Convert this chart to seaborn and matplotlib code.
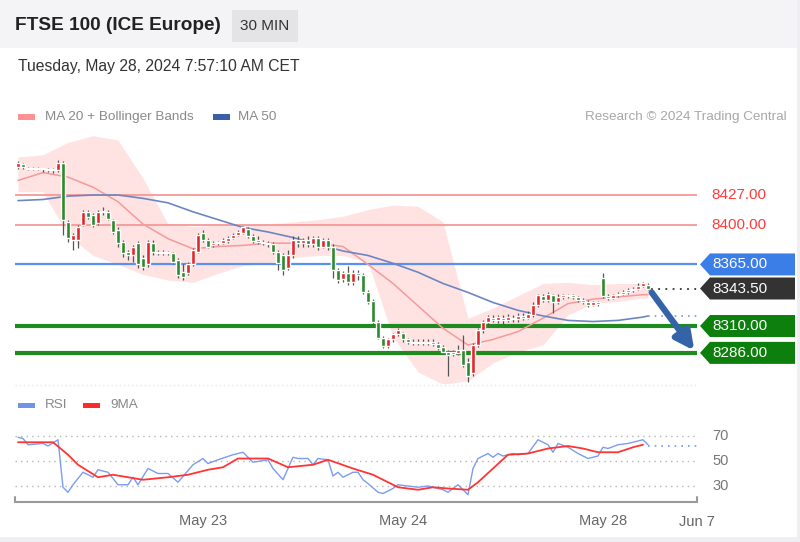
import matplotlib
matplotlib.use("Agg")
import matplotlib.pyplot as plt
import matplotlib.transforms as mtransforms
from matplotlib.patches import Polygon, Rectangle
import numpy as np
import seaborn as sns

sns.set_theme(style="white")
plt.rcParams['font.family'] = ['Liberation Sans', 'DejaVu Sans']

# ---- 30 min candles (bar index 0 .. 126) ----
opens = [8452, 8455, 8451, 8450, 8451, 8450, 8450, 8449, 8449, 8456,
         8403, 8387, 8387, 8400, 8412, 8409, 8402, 8412, 8412, 8405,
         8396, 8385, 8376, 8373, 8384, 8371, 8365, 8384, 8376, 8375,
         8376, 8375, 8369, 8358, 8357, 8365, 8376, 8393, 8387, 8382,
         8384, 8384, 8386, 8389, 8391, 8393, 8397, 8390, 8387, 8385,
         8384, 8383, 8376, 8373, 8362, 8373, 8387, 8384, 8387, 8383,
         8389, 8381, 8387, 8381, 8360, 8352, 8357, 8349, 8357, 8356,
         8340, 8332, 8314, 8299, 8292, 8298, 8303, 8304, 8298, 8296,
         8295, 8296, 8295, 8296, 8294, 8291, 8287, 8285, 8286, 8289,
         8278, 8268, 8293, 8306, 8314, 8317, 8315, 8317, 8315, 8317,
         8316, 8319, 8317, 8320, 8329, 8337, 8333, 8338, 8331, 8336,
         8337, 8338, 8336, 8333, 8331, 8329, 8331, 8353, 8337, 8335,
         8338, 8339, 8340, 8342, 8343, 8346, 8347]
highs = [8457, 8456, 8452, 8452, 8452, 8451, 8451, 8451, 8458, 8457,
         8405, 8393, 8400, 8414, 8414, 8411, 8414, 8416, 8414, 8406,
         8398, 8387, 8378, 8382, 8386, 8373, 8387, 8387, 8378, 8378,
         8377, 8376, 8371, 8365, 8367, 8380, 8393, 8396, 8389, 8386,
         8386, 8389, 8390, 8393, 8396, 8399, 8398, 8392, 8390, 8387,
         8386, 8385, 8378, 8375, 8378, 8390, 8390, 8389, 8390, 8390,
         8390, 8389, 8389, 8383, 8362, 8359, 8364, 8360, 8360, 8357,
         8342, 8334, 8315, 8301, 8299, 8304, 8308, 8305, 8299, 8298,
         8298, 8298, 8298, 8298, 8296, 8293, 8289, 8289, 8293, 8302,
         8281, 8295, 8308, 8315, 8320, 8320, 8320, 8320, 8321, 8320,
         8322, 8322, 8323, 8331, 8339, 8339, 8340, 8339, 8339, 8339,
         8339, 8339, 8337, 8335, 8333, 8332, 8332, 8357, 8339, 8339,
         8340, 8342, 8344, 8345, 8348, 8349, 8348]
lows = [8450, 8450, 8449, 8449, 8449, 8448, 8448, 8447, 8448, 8391,
        8385, 8378, 8380, 8399, 8406, 8398, 8400, 8409, 8405, 8392,
        8381, 8372, 8369, 8367, 8362, 8360, 8363, 8373, 8373, 8373,
        8373, 8365, 8353, 8351, 8356, 8364, 8375, 8385, 8380, 8381,
        8382, 8383, 8384, 8388, 8390, 8392, 8389, 8384, 8383, 8382,
        8381, 8374, 8360, 8356, 8360, 8371, 8381, 8381, 8381, 8381,
        8378, 8380, 8378, 8353, 8348, 8349, 8347, 8347, 8351, 8339,
        8330, 8312, 8298, 8290, 8290, 8296, 8301, 8296, 8294, 8293,
        8293, 8293, 8293, 8292, 8289, 8285, 8265, 8283, 8284, 8273,
        8260, 8265, 8291, 8304, 8311, 8314, 8313, 8312, 8314, 8314,
        8314, 8315, 8316, 8318, 8327, 8331, 8331, 8322, 8330, 8334,
        8335, 8334, 8331, 8330, 8327, 8328, 8328, 8335, 8333, 8334,
        8336, 8338, 8339, 8340, 8342, 8345, 8342]
closes = [8456, 8452, 8450, 8451, 8450, 8450.5, 8449, 8450, 8456, 8405,
          8389, 8391, 8398, 8412, 8407, 8400, 8412, 8413, 8406, 8394,
          8384, 8375, 8373, 8381, 8365, 8363, 8385, 8376, 8375, 8376,
          8375, 8367, 8356, 8354, 8365, 8378, 8391, 8387, 8381, 8384,
          8385, 8387, 8389, 8391, 8394, 8398, 8390, 8386, 8385, 8384,
          8383, 8376, 8366, 8360, 8373, 8387, 8384, 8387, 8383, 8389,
          8381, 8387, 8381, 8360, 8351, 8357, 8349, 8357, 8356, 8340,
          8331, 8314, 8299, 8292, 8298, 8303, 8306, 8298, 8296, 8295,
          8296, 8295, 8296, 8294, 8290, 8287, 8284, 8287, 8289, 8275,
          8265, 8293, 8306, 8314, 8318, 8315, 8318, 8315, 8318, 8316,
          8319, 8317, 8321, 8329, 8338, 8333, 8339, 8331, 8336, 8338,
          8338, 8336, 8333, 8331, 8329, 8331, 8330, 8337, 8335, 8338,
          8339, 8340, 8342, 8343, 8346, 8348, 8343.5]

# ---- indicators (sampled every 5 bars) ----
band_idx = [0, 5, 10, 15, 20, 25, 30, 35, 40, 45, 50, 55, 60, 65, 70,
            75, 80, 85, 90, 95, 100, 105, 110, 115, 120, 125, 126]
ma20 = [8440, 8447, 8443, 8434, 8421, 8401, 8388, 8379, 8381, 8382, 8384, 8384, 8384, 8381,
        8365, 8348, 8328, 8308, 8293, 8298, 8305, 8317, 8330, 8334, 8336, 8338, 8338]
bb_upper = [8461, 8463, 8474, 8480, 8476, 8442, 8401, 8399, 8400, 8400, 8401, 8403, 8405, 8408,
            8414, 8418, 8417, 8403, 8317, 8326, 8337, 8348, 8349, 8347, 8348, 8348, 8348]
bb_lower = [8430, 8430, 8391, 8373, 8365, 8356, 8351, 8349, 8357, 8364, 8366, 8371, 8373, 8373,
            8367, 8300, 8269, 8258, 8261, 8277, 8287, 8293, 8320, 8330, 8332, 8335, 8335]
ma50 = [8422, 8423, 8426, 8427, 8427, 8424, 8420, 8412, 8405, 8398, 8394, 8389, 8383, 8377,
        8373, 8366, 8358, 8348, 8340, 8331, 8324, 8319, 8315, 8314, 8315, 8318, 8319]

# ---- RSI panel ----
rsi_idx = [0, 1, 2, 5, 6, 8, 9, 10, 11, 13, 15, 16, 18, 20, 22, 23, 24, 26, 28, 30,
           32, 35, 37, 38, 40, 43, 45, 47, 50, 51, 53, 55, 56, 58, 59, 60, 62, 63, 64, 65,
           67, 68, 69, 70, 72, 73, 75, 76, 80, 82, 85, 86, 88, 89, 90, 91, 92, 94, 95, 96,
           97, 99, 100, 102, 104, 106, 107, 108, 110, 112, 114, 116, 117, 118, 120, 122, 125, 126]
rsi_val = [69, 68, 63, 64, 62, 67, 29, 25, 31, 41, 37, 43, 41, 31, 31, 37, 31, 44, 40, 40,
           33, 47, 52, 48, 51, 55, 57, 49, 51, 44, 35, 53, 52, 52, 47, 52, 51, 38, 41, 37,
           41, 41, 35, 32, 25, 24, 28, 31, 29, 30, 27, 25, 31, 27, 23, 44, 52, 56, 53, 56,
           54, 56, 55, 56, 67, 63, 57, 64, 61, 56, 52, 54, 61, 60, 63, 64, 67, 63]
ma9_idx = [0, 3, 7, 10, 12, 16, 19, 22, 25, 30, 34, 38, 41, 44, 50, 54, 59, 62, 67, 71,
           74, 76, 80, 83, 86, 90, 92, 95, 98, 102, 106, 110, 113, 116, 120, 123, 125]
ma9_val = [65, 65, 65, 55, 47, 37, 39, 37, 35, 37, 39, 43, 45, 52, 52, 45, 47, 51, 44, 39,
           33, 29, 27, 29, 28, 27, 33, 44, 55, 56, 60, 62, 60, 57, 57, 61, 63]

tick_pos = [37, 77, 117]
tick_lbl = ['May 23', 'May 24', 'May 28', 'Jun 7']
resist = [8427.00, 8400.00]
pivot = 8365.00
last_price = 8343.50
supports = [8310.00, 8286.00]

W, H = 800, 542
def fx(px): return px / W
def fy(py): return 1 - py / H

XMIN, XMAX = -0.6, 135.8
YMIN, YMAX = 8259.1, 8480.6

fig = plt.figure(figsize=(8, 5.42), dpi=100)
fig.patch.set_facecolor('white')
fig.add_artist(Rectangle((0, fy(48)), 1, 48 / H, transform=fig.transFigure, fc='#f4f4f6', ec='none', zorder=0))
fig.add_artist(Rectangle((fx(232), fy(42)), fx(298) - fx(232), 32 / H, transform=fig.transFigure,
                         fc='#e4e4e7', ec='none', zorder=1))
fig.add_artist(Rectangle((0, 0), 1, 5 / H, transform=fig.transFigure, fc='#eeeef3', ec='none'))
fig.add_artist(Rectangle((fx(797), 0), 3 / W, 1, transform=fig.transFigure, fc='#eeeef3', ec='none'))

fig.text(fx(15), fy(25), 'FTSE 100 (ICE Europe)', fontsize=13.7, fontweight='bold', color='#222222', va='center')
fig.text(fx(265), fy(26), '30 MIN', fontsize=11, color='#333333', va='center', ha='center')
fig.text(fx(18), fy(67), 'Tuesday, May 28, 2024 7:57:10 AM CET', fontsize=11.3, color='#333333', va='center')

# legend row
fig.add_artist(Rectangle((fx(18), fy(120)), 17 / W, 6 / H, transform=fig.transFigure, fc='#ff9191', ec='none'))
fig.text(fx(45), fy(117), 'MA 20 + Bollinger Bands', fontsize=9.7, color='#8a8a8a', va='center')
fig.add_artist(Rectangle((fx(213), fy(120)), 17 / W, 6 / H, transform=fig.transFigure, fc='#3b5fa6', ec='none'))
fig.text(fx(238), fy(117), 'MA 50', fontsize=9.7, color='#8a8a8a', va='center')
fig.text(fx(787), fy(117), 'Research \u00a9 2024 Trading Central', fontsize=9.7, color='#a8a8a8', va='center', ha='right')

# ---- main price panel ----
ax = fig.add_axes([fx(15), fy(383), fx(697) - fx(15), fy(135) - fy(383)])
ax.set_xlim(XMIN, XMAX)
ax.set_ylim(YMIN, YMAX)
ax.set_axis_off()

ax.fill_between(band_idx, bb_lower, bb_upper, color='#ffe3e3', lw=0, zorder=0)
sns.lineplot(x=band_idx, y=ma20, ax=ax, color='#f59a9a', linewidth=1.1, zorder=2)
sns.lineplot(x=band_idx, y=ma50, ax=ax, color='#6d86c2', linewidth=1.2, zorder=2)
ax.plot([band_idx[-1], XMAX], [ma50[-1], ma50[-1]], ls=(0, (1, 3)), color='#7d95d0', lw=1.2)

for r in resist:
    ax.axhline(r, color='#f59898', lw=1.3, zorder=1)
ax.axhline(pivot, color='#5b8ff0', lw=1.6, zorder=1)
for s in supports:
    ax.axhline(s, color='#1f8a1f', lw=3, zorder=1)

o = np.array(opens); c = np.array(closes)
idx = np.arange(len(c))
body_lo = np.minimum(o, c)
body_h = np.maximum(np.abs(c - o), 0.7)
colors = np.where(c > o, '#e3262b', '#2b8a2b')
ax.vlines(idx, lows, highs, colors='#555555', lw=0.9, zorder=3)
ax.bar(idx, body_h, bottom=body_lo, width=0.66, color=colors, zorder=4)

ax.plot([idx[-1] + 0.5, XMAX], [last_price, last_price], ls=(0, (1, 3)), color='#333333', lw=1.3)
ax.annotate('', xy=(135.6, 8286), xytext=(126.4, 8342),
            arrowprops=dict(arrowstyle='-|>', color='#3563a8', lw=4.5, mutation_scale=28),
            annotation_clip=False, zorder=6)

# right side price tags
blend = mtransforms.blended_transform_factory(fig.transFigure, ax.transData)
hh = 11 * (YMAX - YMIN) / 248.0
for r in resist:
    ax.text(fx(711), r, f'{r:.2f}', transform=blend, fontsize=11, color='#ff3c3c',
            va='center', ha='left', clip_on=False)

def tag(price, face):
    pts = [(fx(700), price), (fx(710), price + hh), (fx(795), price + hh),
           (fx(795), price - hh), (fx(710), price - hh)]
    ax.add_patch(Polygon(pts, closed=True, fc=face, ec='none', transform=blend, clip_on=False, zorder=5))
    ax.text(fx(712), price, f'{price:.2f}', transform=blend, fontsize=11, color='white',
            va='center', ha='left', zorder=6, clip_on=False)

tag(pivot, '#3c7ee8')
tag(last_price, '#333333')
for s in supports:
    tag(s, '#0d7f0d')

fig.add_artist(plt.Line2D([fx(15), fx(697)], [fy(385), fy(385)], transform=fig.transFigure,
                          color='#e6e6e6', lw=1, ls=(0, (1, 2))))

# ---- RSI panel ----
rax = fig.add_axes([fx(15), fy(502), fx(697) - fx(15), fy(420) - fy(502)])
rax.set_xlim(XMIN, XMAX)
rax.set_ylim(17.2, 82.8)
for v in (30, 50, 70):
    rax.axhline(v, color='#b5b5b5', lw=1, ls=(0, (1, 3)), zorder=0)
sns.lineplot(x=rsi_idx, y=rsi_val, ax=rax, color='#7b9cf0', linewidth=1.0, zorder=2)
sns.lineplot(x=ma9_idx, y=ma9_val, ax=rax, color='#ff3434', linewidth=1.3, zorder=3)
rax.plot([rsi_idx[-1], XMAX], [62, 62], ls=(0, (1, 3)), color='#7096f0', lw=1.2)
rblend = mtransforms.blended_transform_factory(rax.transAxes, rax.transData)
for v in (70, 50, 30):
    rax.text(1.022, v, str(v), transform=rblend, fontsize=10.5, color='#777777', va='center', ha='left')

for sp in ('top', 'left', 'right'):
    rax.spines[sp].set_visible(False)
rax.spines['bottom'].set_color('#9a9a9a')
rax.spines['bottom'].set_linewidth(1.5)
rax.plot([XMIN, XMIN], [17.2, 21.5], color='#9a9a9a', lw=1.5, clip_on=False)
rax.plot([XMAX, XMAX], [17.2, 21.5], color='#9a9a9a', lw=1.5, clip_on=False)
rax.set_yticks([])
rax.set_xticks(tick_pos + [XMAX])
rax.set_xticklabels(tick_lbl)
rax.tick_params(axis='x', length=0, pad=9, labelsize=10.5, colors='#666666')
rax.set_xlabel('')
rax.set_ylabel('')

fig.add_artist(Rectangle((fx(18), fy(408)), 17 / W, 5 / H, transform=fig.transFigure, fc='#6f93e8', ec='none'))
fig.text(fx(45), fy(405), 'RSI', fontsize=9.7, color='#888888', va='center')
fig.add_artist(Rectangle((fx(83), fy(408)), 17 / W, 5 / H, transform=fig.transFigure, fc='#ff2a2a', ec='none'))
fig.text(fx(110), fy(405), '9MA', fontsize=9.7, color='#888888', va='center')

fig.savefig('out.png', dpi=100)
